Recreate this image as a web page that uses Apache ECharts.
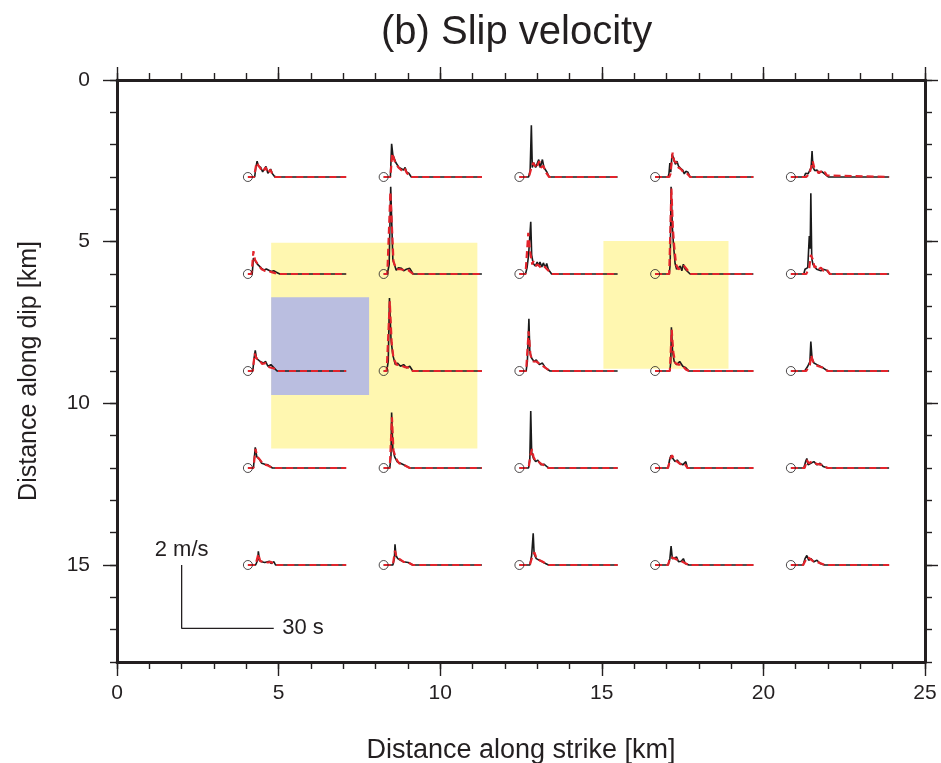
<!DOCTYPE html>
<html><head><meta charset="utf-8">
<script src="https://cdn.jsdelivr.net/npm/echarts@6/dist/echarts.min.js"></script>
<style>html,body{margin:0;padding:0;background:#fff}#c{width:941px;height:763px}</style>
</head><body><div id="c"></div>
<script>
// Station origins (km)
const stationX = [4.05, 8.25, 12.45, 16.65, 20.85];
const stationY = [3, 6, 9, 12, 15];

// Slip-velocity traces: [time s, velocity m/s]; observed (black) and synthetic (red)
const obsRow1 = [
  [[0,0],[2.2,0],[2.6,0.3],[3.0,0.5],[3.4,0.35],[4.2,0.3],[4.8,0.16],[5.9,0.33],[6.5,0.12],[7.4,0.25],[8.0,0.1],[8.8,0],[14.5,0],[14.8,0.05],[15.1,0]],
  [[0,0],[2.2,0],[2.6,1.05],[3.0,0.7],[4.0,0.45],[5.0,0.3],[6.5,0.22],[7.0,0.3],[7.5,0.15],[8.2,0.12],[9.0,0]],
  [[0,0],[3.0,0],[3.5,0.2],[3.9,1.63],[4.2,0.3],[4.7,0.45],[5.3,0.3],[6.3,0.55],[6.8,0.3],[7.5,0.55],[8.0,0.3],[9.0,0.15],[9.7,0]],
  [[0,0],[4.2,0],[4.5,0.1],[4.8,0.44],[5.1,0.15],[5.5,0.72],[6.0,0.6],[6.6,0.4],[7.1,0.5],[7.6,0.35],[8.2,0.28],[9.0,0.22],[9.5,0.1],[10.0,0.18],[10.7,0.15],[11.4,0]],
  [[0,0],[4.3,0],[4.8,0.12],[5.1,0.18],[5.6,0.1],[6.1,0.15],[6.6,0.3],[6.9,0.82],[7.2,0.3],[7.8,0.2],[8.5,0.22],[9.2,0.12],[10,0.18],[11,0.1],[12.2,0]]
];
const synRow1 = [
  [[0,0],[2.0,0],[2.8,0.45],[3.3,0.4],[4.8,0.17],[5.8,0.3],[6.5,0.12],[7.3,0.23],[8.2,0.05],[9,0]],
  [[0,0],[2.2,0],[2.8,0.75],[3.6,0.5],[4.8,0.3],[6.0,0.2],[6.8,0.28],[7.6,0.12],[9,0]],
  [[0,0],[3.1,0],[3.8,0.25],[4.5,0.45],[5.5,0.28],[6.5,0.5],[7.0,0.3],[7.8,0.35],[8.6,0.15],[9.7,0]],
  [[0,0],[4.6,0],[5.0,0.1],[5.7,0.77],[6.2,0.5],[7.0,0.45],[7.6,0.3],[8.4,0.25],[9.2,0.15],[9.8,0.2],[10.5,0.1],[11.4,0]],
  [[0,0],[5.0,0],[6.0,0.1],[6.6,0.3],[7.1,0.5],[7.6,0.3],[8.4,0.23],[9.0,0.12],[9.7,0.18],[10.4,0.1],[11.1,0.15],[11.7,0.05],[12.2,0]]
];
const obsRow2 = [
  [[0,0],[1.4,0],[1.8,0.5],[2.3,0.48],[2.8,0.35],[3.4,0.28],[4.5,0.18],[5.2,0.12],[6.0,0.16],[6.6,0.1],[7.6,0.08],[8.4,0.1],[9.4,0.05],[10.4,0]],
  [[0,0],[1.2,0],[1.8,0.3],[2.3,2.75],[3.0,0.45],[4.1,0.12],[4.8,0.2],[5.8,0.18],[6.5,0.1],[7.4,0.15],[8.0,0.1],[8.5,0.18],[9.6,0]],
  [[0,0],[2.0,0],[2.5,0.2],[3.0,0.6],[3.7,1.65],[4.0,0.6],[4.5,0.33],[5.2,0.25],[5.8,0.38],[6.3,0.25],[6.7,0.38],[7.3,0.22],[7.8,0.35],[8.4,0.2],[8.9,0.33],[9.4,0.15],[10.5,0]],
  [[0,0],[4.6,0],[4.9,0.3],[5.2,2.75],[5.6,1.5],[6.0,0.9],[6.5,0.33],[7.0,0.15],[7.6,0.12],[8.2,0.25],[8.7,0.1],[9.2,0.31],[9.8,0.15],[10.3,0.2],[11.4,0]],
  [[0,0],[4.2,0],[4.6,0.15],[5.0,0.1],[5.5,0.2],[6.0,1.2],[6.3,0.8],[6.5,2.55],[6.8,0.5],[7.2,0.3],[7.8,0.25],[8.4,0.15],[9.0,0.2],[9.8,0.1],[10.5,0.15],[11.6,0.12],[12.7,0]]
];
const synRow2 = [
  [[0,0],[1.2,0],[1.8,0.72],[2.3,0.45],[3.4,0.28],[4.5,0.15],[5.5,0.1],[6.6,0.1],[8,0.05],[10,0]],
  [[0,0],[1.2,0],[2.2,2.6],[3.2,0.4],[4.1,0.15],[5.5,0.15],[6.8,0.12],[8,0.12],[9.6,0]],
  [[0,0],[2.0,0],[2.9,1.3],[3.5,0.7],[4.2,0.3],[4.5,0.4],[5.2,0.25],[6.0,0.3],[7.0,0.2],[8.0,0.25],[9.0,0.15],[10.5,0]],
  [[0,0],[4.6,0],[5.3,2.7],[5.8,1.4],[6.2,0.9],[6.8,0.3],[7.6,0.15],[8.5,0.2],[9.5,0.25],[10.3,0.15],[11.4,0]],
  [[0,0],[5.0,0],[6.0,0.2],[6.5,0.6],[7.2,0.45],[7.7,0.2],[8.4,0.25],[9.0,0.15],[9.8,0.2],[10.6,0.1],[11.6,0.15],[12.7,0]]
];
const obsRow3 = [
  [[0,0],[1.6,0],[2.0,0.4],[2.4,0.65],[2.8,0.4],[3.4,0.45],[4.0,0.3],[5.0,0.25],[5.8,0.3],[6.5,0.15],[7.5,0.2],[8.5,0.1],[9.5,0]],
  [[0,0],[1.0,0],[1.5,0.3],[1.9,2.3],[2.4,1.0],[3.0,0.5],[3.8,0.2],[4.5,0.25],[5.5,0.15],[6.5,0.2],[7.5,0.1],[8.5,0.15],[9.5,0]],
  [[0,0],[2.2,0],[2.6,0.3],[3.1,1.65],[3.4,0.6],[4.0,0.4],[4.8,0.3],[5.5,0.35],[6.5,0.2],[7.5,0.25],[8.5,0.1],[10,0]],
  [[0,0],[4.8,0],[5.1,0.3],[5.3,1.38],[5.7,0.6],[6.2,0.3],[7,0.2],[8,0.3],[9,0.15],[10,0.1],[11,0]],
  [[0,0],[4.5,0],[5.5,0.15],[6.2,0.3],[6.5,0.93],[6.9,0.4],[7.5,0.25],[8.5,0.2],[9.5,0.15],[10.5,0.1],[12,0]]
];
const synRow3 = [
  [[0,0],[1.6,0],[2.2,0.55],[2.8,0.4],[3.6,0.38],[4.6,0.22],[5.8,0.25],[7,0.12],[8.5,0.08],[9.5,0]],
  [[0,0],[1.0,0],[2.0,2.2],[2.6,0.9],[3.2,0.4],[4.2,0.2],[5.5,0.18],[7,0.12],[8.5,0.1],[9.5,0]],
  [[0,0],[2.2,0],[3.0,1.25],[3.6,0.5],[4.5,0.3],[5.5,0.3],[7,0.2],[8.5,0.1],[10,0]],
  [[0,0],[4.8,0],[5.4,1.3],[5.9,0.6],[6.6,0.25],[7.6,0.2],[8.6,0.2],[10,0.05],[11,0]],
  [[0,0],[5,0],[6.2,0.2],[6.6,0.5],[7.2,0.3],[8,0.2],[9,0.15],[10.5,0.1],[12,0]]
];
const obsRow4 = [
  [[0,0],[1.8,0],[2.4,0.65],[2.9,0.35],[3.6,0.3],[4.5,0.15],[5.5,0.12],[6.5,0.1],[8,0]],
  [[0,0],[2.0,0],[2.4,0.4],[2.6,1.75],[3.0,0.6],[3.6,0.35],[4.4,0.2],[5.5,0.15],[6.5,0.1],[8.5,0]],
  [[0,0],[3.0,0],[3.4,0.3],[3.7,1.8],[4.0,0.5],[4.6,0.3],[5.3,0.2],[6,0.25],[7,0.1],[8,0.12],[9.5,0]],
  [[0,0],[4.2,0],[4.8,0.3],[5.2,0.4],[5.8,0.3],[6.5,0.2],[7.2,0.25],[8.0,0.15],[9.0,0.1],[10.0,0.2],[10.5,0],[11.5,0]],
  [[0,0],[4.2,0],[4.8,0.2],[5.2,0.3],[5.6,0.1],[6.5,0.15],[7.5,0.2],[8.5,0.1],[9.5,0.15],[10.5,0.05],[12,0]]
];
const synRow4 = [
  [[0,0],[1.8,0],[2.5,0.6],[3.0,0.35],[4.0,0.25],[5.0,0.12],[6.5,0.08],[8,0]],
  [[0,0],[2.0,0],[2.7,1.6],[3.2,0.55],[4,0.3],[5,0.15],[6.5,0.1],[8.5,0]],
  [[0,0],[3.0,0],[3.6,0.4],[4.1,0.6],[4.6,0.35],[5.3,0.22],[6.2,0.2],[7.2,0.12],[8.4,0.08],[9.5,0]],
  [[0,0],[4.2,0],[5.0,0.3],[5.5,0.4],[6.3,0.25],[7.2,0.2],[8.2,0.12],[9.5,0.15],[10.5,0]],
  [[0,0],[4.5,0],[5.2,0.25],[5.8,0.15],[6.8,0.2],[7.8,0.15],[8.8,0.12],[10,0.1],[12,0]]
];
const obsRow5 = [
  [[0,0],[2.5,0],[3.2,0.15],[3.4,0.43],[3.8,0.15],[4.5,0.1],[5.5,0.08],[7,0.12],[7.5,0.05],[8.5,0.1],[9,0]],
  [[0,0],[3.0,0],[3.5,0.2],[3.7,0.65],[4.0,0.3],[4.6,0.2],[5.5,0.15],[6.5,0.1],[8,0.08],[9.5,0]],
  [[0,0],[3.4,0],[4.0,0.3],[4.5,1.0],[4.8,0.35],[5.5,0.2],[6.5,0.15],[7.5,0.1],[8.5,0.05],[9.5,0]],
  [[0,0],[4.2,0],[4.8,0.2],[5.2,0.6],[5.6,0.2],[6.2,0.15],[7,0.25],[7.6,0.1],[8.5,0.12],[9.2,0.2],[9.8,0.05],[11,0]],
  [[0,0],[4.0,0],[4.6,0.2],[5.2,0.3],[5.8,0.15],[6.5,0.2],[7.5,0.1],[8.5,0.15],[9.5,0.05],[11,0]]
];
const synRow5 = [
  [[0,0],[2.5,0],[3.4,0.35],[4.0,0.12],[5,0.1],[6.5,0.08],[7.5,0.1],[9,0]],
  [[0,0],[3.0,0],[3.7,0.45],[4.2,0.25],[5,0.2],[6.5,0.1],[8,0.08],[9.5,0]],
  [[0,0],[3.4,0],[4.3,0.3],[4.9,0.4],[5.6,0.2],[6.6,0.15],[7.6,0.1],[9.5,0]],
  [[0,0],[4.2,0],[5.0,0.25],[5.6,0.3],[6.5,0.2],[7.5,0.15],[8.5,0.12],[10,0.05],[11,0]],
  [[0,0],[4.0,0],[4.8,0.15],[5.4,0.25],[6.2,0.2],[7.2,0.12],[8.5,0.1],[11,0]]
];

// Shaded patches [x1, y1, x2, y2] in km
const yellowPatches = [[4.77, 5.03, 11.15, 11.4], [15.05, 4.98, 18.92, 8.93]];
const bluePatches = [[4.77, 6.72, 7.8, 9.74]];

// Axis ticks
const xMajorTicks = [0, 5, 10, 15, 20, 25];
const xMinorTicks = [0,1,2,3,4,5,6,7,8,9,10,11,12,13,14,15,16,17,18,19,20,21,22,23,24,25];
const yMajorTicks = [0, 5, 10, 15];
const yMinorTicks = [0,1,2,3,4,5,6,7,8,9,10,11,12,13,14,15,16,17,18];

// Scale bar
const scaleBarOrigin = [2, 15];
const scaleVel = 2;   // m/s
const scaleTime = 30; // s
const traceEnd = 32;  // s

const TS = 0.095; // km per second
const VS = 0.98;  // km per m/s

const obsRows = [obsRow1, obsRow2, obsRow3, obsRow4, obsRow5];
const synRows = [synRow1, synRow2, synRow3, synRow4, synRow5];
const INK = '#231f20';
const FONT = 'Liberation Sans';

function trace(x0, y0, pts) {
  const out = pts.map(p => [x0 + p[0] * TS, y0 - p[1] * VS]);
  out.push([x0 + traceEnd * TS, y0]);
  return out;
}

const series = [];
function rectSeries(list, color) {
  return {
    type: 'custom', silent: true, z: 1,
    data: list,
    renderItem: function (params, api) {
      const p1 = api.coord([api.value(0), api.value(1)]);
      const p2 = api.coord([api.value(2), api.value(3)]);
      return { type: 'rect', shape: { x: Math.min(p1[0], p2[0]), y: Math.min(p1[1], p2[1]), width: Math.abs(p2[0] - p1[0]), height: Math.abs(p2[1] - p1[1]) }, style: { fill: color } };
    }
  };
}
series.push(rectSeries(yellowPatches, '#fff7b0'));
series.push(rectSeries(bluePatches, '#babee0'));

const origins = [];
for (let r = 0; r < 5; r++) {
  for (let c = 0; c < 5; c++) {
    const x0 = stationX[c], y0 = stationY[r];
    origins.push([x0, y0]);
    series.push({ type: 'line', data: trace(x0, y0, obsRows[r][c]), showSymbol: false, symbol: 'none', z: 3,
      lineStyle: { color: '#1a1a1a', width: 1.6 }, animation: false, silent: true });
  }
}
for (let r = 0; r < 5; r++) {
  for (let c = 0; c < 5; c++) {
    series.push({ type: 'line', data: trace(stationX[c], stationY[r], synRows[r][c]), showSymbol: false, symbol: 'none', z: 4,
      lineStyle: { color: '#e3232b', width: 2.2, type: [7, 4] }, animation: false, silent: true });
  }
}
series.push({ type: 'scatter', data: origins, symbol: 'circle', symbolSize: 9, z: 5, silent: true,
  itemStyle: { color: 'rgba(255,255,255,0)', borderColor: INK, borderWidth: 1 } });

// scale bar
const sb = [scaleBarOrigin, [scaleBarOrigin[0], scaleBarOrigin[1] + scaleVel * VS], [scaleBarOrigin[0] + scaleTime * TS, scaleBarOrigin[1] + scaleVel * VS]];
series.push({ type: 'line', data: sb, showSymbol: false, symbol: 'none', z: 5, silent: true, animation: false,
  lineStyle: { color: INK, width: 1.3 } });
const sbLabel = { show: true, color: INK, fontSize: 22, fontFamily: FONT, opacity: 1 };
series.push({ type: 'scatter', symbolSize: 1, silent: true, z: 6,
  itemStyle: { color: 'rgba(0,0,0,0)', opacity: 1 },
  data: [
    { value: sb[0], label: Object.assign({}, sbLabel, { formatter: scaleVel + ' m/s', position: 'top', distance: 4 }) },
    { value: sb[2], label: Object.assign({}, sbLabel, { formatter: scaleTime + ' s', position: 'right', distance: 8 }) }
  ] });

function xAx(pos, ticks, len, labels, line) {
  return { type: 'value', min: 0, max: 25, position: pos,
    axisLine: { show: line, onZero: false, lineStyle: { color: INK, width: 3 } },
    axisTick: { show: true, customValues: ticks, length: len, lineStyle: { color: INK, width: 1.4 } },
    axisLabel: { show: labels, customValues: xMajorTicks, fontSize: 21, color: INK, margin: 21, fontFamily: FONT },
    splitLine: { show: false } };
}
function yAx(pos, ticks, len, labels, line) {
  return { type: 'value', min: 0, max: 18, inverse: true, position: pos,
    axisLine: { show: line, onZero: false, lineStyle: { color: INK, width: 3 } },
    axisTick: { show: true, customValues: ticks, length: len, lineStyle: { color: INK, width: 1.4 } },
    axisLabel: { show: labels, customValues: yMajorTicks, fontSize: 21, color: INK, margin: 27, fontFamily: FONT },
    splitLine: { show: false } };
}
const xAxes = [xAx('bottom', xMajorTicks, 14, true, true), xAx('bottom', xMinorTicks, 7, false, false),
               xAx('top', xMajorTicks, 13, false, true), xAx('top', xMinorTicks, 7, false, false)];
xAxes[0].name = 'Distance along strike [km]';
xAxes[0].nameLocation = 'middle';
xAxes[0].nameGap = 75;
xAxes[0].nameTextStyle = { fontSize: 27, color: INK, fontFamily: FONT };
const yAxes = [yAx('left', yMajorTicks, 14, true, true), yAx('left', yMinorTicks, 7, false, false),
               yAx('right', yMajorTicks, 13, false, true), yAx('right', yMinorTicks, 7, false, false)];
yAxes[0].name = 'Distance along dip [km]';
yAxes[0].nameLocation = 'middle';
yAxes[0].nameGap = 75;
yAxes[0].nameTextStyle = { fontSize: 25, color: INK, fontFamily: FONT };

const chart = echarts.init(document.getElementById('c'), null, { renderer: 'canvas' });
chart.setOption({
  animation: false,
  backgroundColor: '#fff',
  title: { text: '(b) Slip velocity', left: 376, top: 8,
    textStyle: { fontSize: 40, fontWeight: 'normal', color: INK, fontFamily: FONT } },
  grid: { left: 117, top: 80, width: 808, height: 582, containLabel: false, outerBoundsMode: 'none' },
  xAxis: xAxes,
  yAxis: yAxes,
  series: series
});
</script></body></html>
